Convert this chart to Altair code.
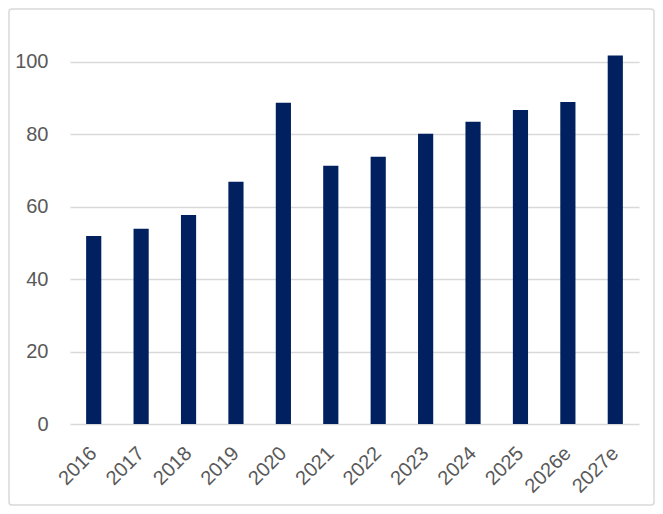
import altair as alt
import pandas as pd

years = ["2016", "2017", "2018", "2019", "2020", "2021", "2022", "2023",
         "2024", "2025", "2026e", "2027e"]
values = [51.9, 53.9, 57.7, 66.9, 88.7, 71.3, 73.8, 80.1, 83.4, 86.7, 88.9, 101.7]
y_ticks = [0, 20, 40, 60, 80, 100]

df = pd.DataFrame({"year": years, "value": values})

W, H = 569, 384
PL, PT, PR, PB = 62, 32, 16, 82

bars = alt.Chart(df).mark_bar(color="#002060").encode(
    x=alt.X("year:N", sort=years,
            scale=alt.Scale(paddingInner=0.68, paddingOuter=0.34),
            axis=alt.Axis(title=None, labelAngle=-45, labelAlign="right",
                          labelBaseline="middle", labelPadding=26,
                          ticks=False, tickSize=0, domain=False, grid=False,
                          labelFont="Liberation Sans", labelFontSize=20,
                          labelColor="#595959")),
    y=alt.Y("value:Q",
            scale=alt.Scale(domain=[0, 106], nice=False),
            axis=alt.Axis(title=None, values=y_ticks, ticks=False, tickSize=0,
                          domain=False, labelPadding=22,
                          gridColor="#D9D9D9", gridWidth=1.5,
                          labelFont="Liberation Sans", labelFontSize=20,
                          labelColor="#595959")),
)

border = alt.Chart(pd.DataFrame({"k": [0]})).mark_rect(
    fill=None, stroke="#D9D9D9", strokeWidth=1.5, cornerRadius=3
).encode(
    x=alt.value(-PL + 1), x2=alt.value(W + PR - 1),
    y=alt.value(-PT + 1), y2=alt.value(H + PB - 1),
)

chart = alt.layer(bars, border).properties(
    width=W, height=H,
    background="white",
    autosize=alt.AutoSizeParams(type="none"),
    padding={"left": PL, "top": PT, "right": PR, "bottom": PB},
).configure_view(strokeWidth=0, stroke="transparent")

chart.save("out.html", embed_options={"renderer": "svg", "actions": False})
